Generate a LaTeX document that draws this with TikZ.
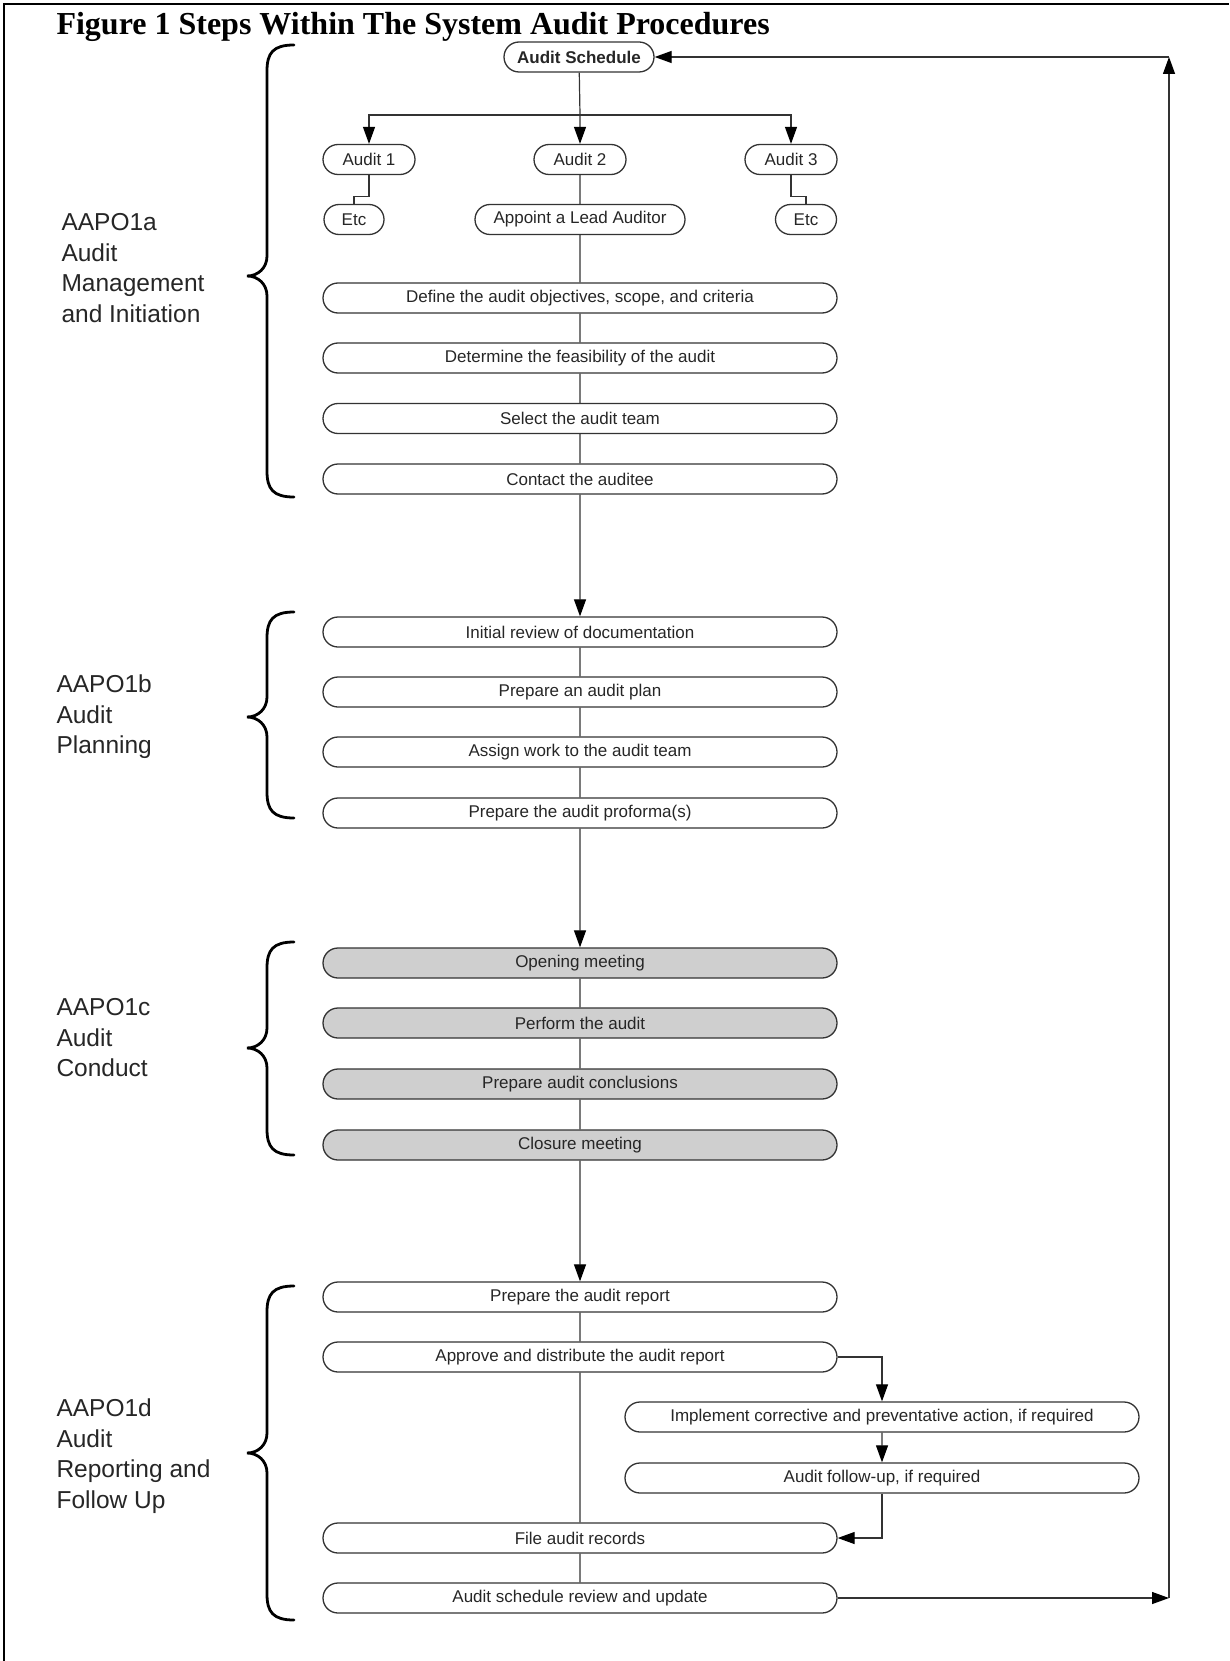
\documentclass[tikz,border=0pt]{standalone}
\usepackage{fontspec}
\setmainfont{Liberation Serif}
\setsansfont{Liberation Sans}
\usepackage{tikz}
\usetikzlibrary{shapes.misc,arrows.meta,calc}

% curly bracket in front of each phase: top, tip, bottom
\newcommand{\phasebrace}[3]{%
  \draw[bracket] (294,#1) .. controls (273,#1) and (267,#1+8) .. (267,#1+26)
    -- (267,#2-20) .. controls (267,#2-8) and (258,#2) .. (247,#2)
    .. controls (258,#2) and (267,#2+8) .. (267,#2+20)
    -- (267,#3-26) .. controls (267,#3-8) and (273,#3) .. (294,#3);}

\begin{document}
\begin{tikzpicture}[x=1pt,y=-1pt,
    stepbox/.style={draw=black!80, line width=1.3pt, rounded rectangle,
      minimum height=30pt, inner sep=0pt, text=black!85,
      font=\sffamily\fontsize{17}{17}\selectfont},
    longstep/.style={stepbox, minimum width=514pt},
    greystep/.style={longstep, fill=gray!38},
    flow/.style={draw=black!80, line width=1.2pt},
    arr/.style={flow, -{Triangle[length=17pt,width=12pt,color=black]}},
    bracket/.style={line width=2.8pt, line cap=round},
    phase/.style={anchor=west, align=left, text=black!85,
      font=\sffamily\fontsize{24.5}{30.5}\selectfont}]
    \useasboundingbox (0,0) rectangle (1229,1661);

    % Frame and title
    \draw[line width=2pt] (4,1661) -- (4,4) -- (1229,4);
    \node[anchor=base west, font=\bfseries\fontsize{32}{32}\selectfont] (title) at (53,35)
      {Figure 1 Steps Within The System Audit Procedures};

    % Schedule and audits
    \node[stepbox, minimum width=150pt, font=\sffamily\bfseries\fontsize{17}{17}\selectfont] (sched) at (579,57) {Audit Schedule};
    \node[stepbox, minimum width=92pt] (audit1) at (369,159.5) {Audit 1};
    \node[stepbox, minimum width=92pt] (audit2) at (580,159.5) {Audit 2};
    \node[stepbox, minimum width=92pt] (audit3) at (791,159.5) {Audit 3};
    \node[stepbox, minimum width=60pt] (etc1) at (354,219.5) {Etc};
    \node[stepbox, minimum width=210pt] (lead) at (580,219.5) {Appoint a Lead Auditor};
    \node[stepbox, minimum width=61pt] (etc3) at (806,219.5) {Etc};

    % AAPO1a
    \node[longstep] (define) at (580,298) {Define the audit objectives, scope, and criteria};
    \node[longstep] (feasible) at (580,358) {Determine the feasibility of the audit};
    \node[longstep] (team) at (580,418.5) {Select the audit team};
    \node[longstep] (contact) at (580,479) {Contact the auditee};

    % AAPO1b
    \node[longstep] (docs) at (580,632) {Initial review of documentation};
    \node[longstep] (plan) at (580,692) {Prepare an audit plan};
    \node[longstep] (assign) at (580,752) {Assign work to the audit team};
    \node[longstep] (proforma) at (580,813) {Prepare the audit proforma(s)};

    % AAPO1c
    \node[greystep] (opening) at (580,963) {Opening meeting};
    \node[greystep] (perform) at (580,1023) {Perform the audit};
    \node[greystep] (conclude) at (580,1084) {Prepare audit conclusions};
    \node[greystep] (closure) at (580,1145) {Closure meeting};

    % AAPO1d
    \node[longstep] (report) at (580,1297) {Prepare the audit report};
    \node[longstep] (approve) at (580,1357) {Approve and distribute the audit report};
    \node[longstep] (implement) at (882,1417) {Implement corrective and preventative action, if required};
    \node[longstep] (followup) at (882,1478) {Audit follow-up, if required};
    \node[longstep] (filing) at (580,1538) {File audit records};
    \node[longstep] (update) at (580,1598) {Audit schedule review and update};

    % Phase names
    \node[phase] (phasea) at (58,268) {AAPO1a\\Audit\\Management\\and Initiation};
    \node[phase] (phaseb) at (53,717) {AAPO1b\\Audit\\Planning};
    \node[phase] (phasec) at (53,1038) {AAPO1c\\Audit\\Conduct};
    \node[phase] (phased) at (53,1456) {AAPO1d\\Audit\\Reporting and\\Follow Up};
    \phasebrace{45}{276}{497}
    \phasebrace{612}{717}{818}
    \phasebrace{942}{1048}{1155}
    \phasebrace{1286}{1453}{1620}

    % Connectors
    \coordinate (split) at (580,115);
    \coordinate (loopbottom) at (1169,1598);
    \coordinate (looptop) at (1169,57);
    \draw[flow] (sched) -- (split);
    \draw[arr] (split) -- (audit2);
    \draw[arr] (split) -| (audit1);
    \draw[arr] (split) -| (audit3);
    \draw[flow] (audit1.south) -- ++(0,21) -| (etc1.north);
    \draw[flow] (audit3.south) -- ++(0,21) -| (etc3.north);
    \foreach \a/\b in {audit2/lead, lead/define, define/feasible, feasible/team, team/contact,
        docs/plan, plan/assign, assign/proforma, opening/perform, perform/conclude,
        conclude/closure, report/approve, approve/filing, filing/update}
      \draw[flow] (\a) -- (\b);
    \draw[arr] (contact) -- (docs);
    \draw[arr] (proforma) -- (opening);
    \draw[arr] (closure) -- (report);
    \draw[arr] (approve.east) -| (implement.north);
    \draw[arr] (implement) -- (followup);
    \draw[arr] (followup.south) |- (filing.east);
    \draw[arr] (update.east) -- (loopbottom);
    \draw[arr] (loopbottom) -- (looptop);
    \draw[arr] (looptop) -- (sched.east);
\end{tikzpicture}
\end{document}
